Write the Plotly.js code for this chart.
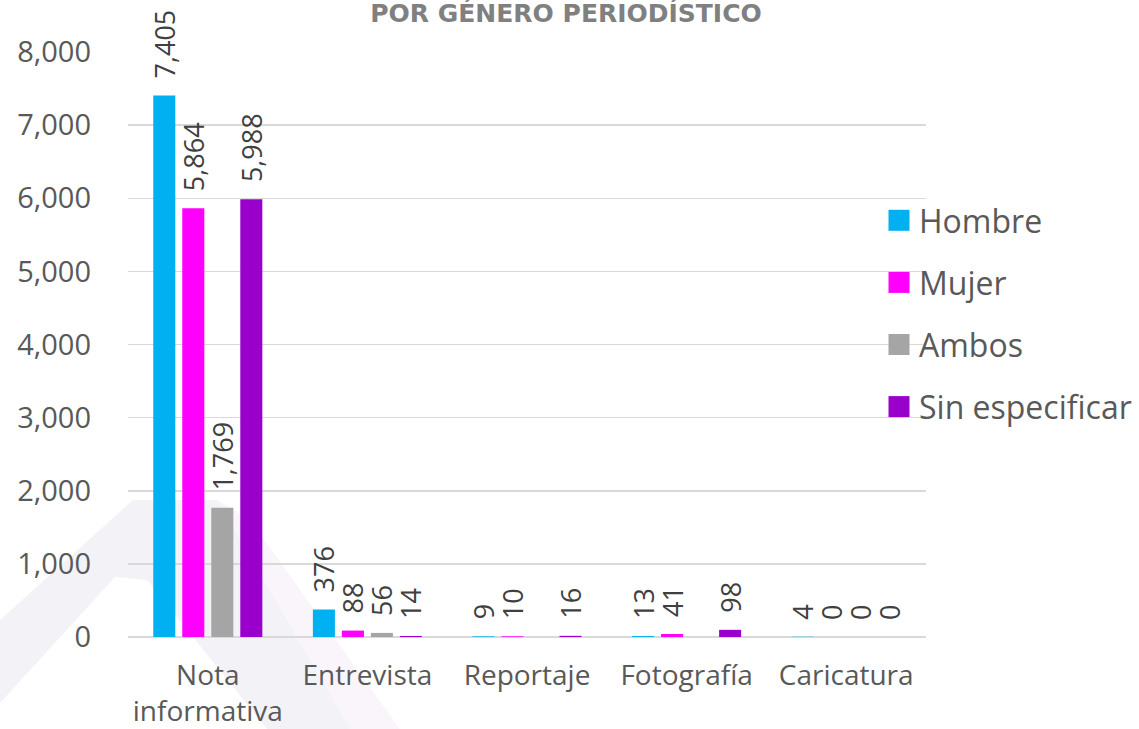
<!DOCTYPE html>
<html>
<head>
<meta charset="utf-8">
<script src="https://cdn.plot.ly/plotly-3.0.1.min.js"></script>
<style>
  html, body { margin: 0; padding: 0; background: #fff; }
  #chart { width: 1139px; height: 729px; }
</style>
</head>
<body>
<div id="chart"></div>
<script>
// categories and values per series
const categories = ['Nota<br>informativa', 'Entrevista', 'Reportaje', 'Fotografía', 'Caricatura'];
const hombre = [7405, 376, 9, 13, 4];
const mujer = [5864, 88, 10, 41, 0];
const ambos = [1769, 56, null, null, 0];
const sinEspecificar = [5988, 14, 16, 98, 0];

const seriesNames = ['Hombre', 'Mujer', 'Ambos', 'Sin especificar'];
const seriesColors = ['#00B0F0', '#FF00FF', '#A5A5A5', '#9900CC'];
const seriesValues = [hombre, mujer, ambos, sinEspecificar];

const FONT = '"Open Sans", "Noto Sans", sans-serif';
const W = 1139, H = 729;

// pixel -> paper helpers, used for the placement of layout pieces
const PL = 128, PR = 926, PT = 52, PB = 637;
function px(x) { return (x - PL) / (PR - PL); }
function py(y) { return (PB - y) / (PB - PT); }
function poly(points) {
  return 'M' + points.map(([x, y]) => px(x) + ',' + py(y)).join(' L') + ' Z';
}

const traces = seriesNames.map((name, i) => ({
  type: 'bar',
  name: name,
  x: categories,
  y: seriesValues[i],
  legendgroup: name,
  marker: { color: seriesColors[i], line: { width: 0 } },
  texttemplate: '\u00A0\u00A0%{y:,}',
  textposition: 'outside',
  textangle: -90,
  constraintext: 'none',
  cliponaxis: false,
  textfont: { family: FONT, size: 27, color: '#404040' },
  hoverinfo: 'x+y+name'
}));

const layout = {
  width: W,
  height: H,
  margin: { l: PL, r: W - PR, t: PT, b: H - PB, autoexpand: false },
  paper_bgcolor: '#ffffff',
  plot_bgcolor: 'rgba(0,0,0,0)',
  font: { family: FONT, color: '#595959' },
  title: {
    text: 'POR GÉNERO PERIODÍSTICO',
    xref: 'paper', x: px(566), xanchor: 'center',
    yref: 'paper', y: 1, yanchor: 'bottom',
    pad: { b: 30 },
    font: { family: '"DejaVu Sans", sans-serif', stretch: 'condensed',
            size: 25, color: '#808080', weight: 'bold' }
  },
  barmode: 'group',
  bargap: 0.273,
  bargroupgap: 0.24,
  xaxis: {
    type: 'category',
    showgrid: false,
    showline: false,
    zeroline: false,
    ticks: '',
    ticklabelstandoff: 19,
    tickfont: { family: FONT, size: 28, color: '#595959' }
  },
  yaxis: {
    range: [0, 8000],
    dtick: 1000,
    tickformat: ',',
    showgrid: true,
    gridcolor: '#D9D9D9',
    gridwidth: 1.5,
    zeroline: true,
    zerolinecolor: '#D9D9D9',
    zerolinewidth: 1.5,
    ticks: '',
    ticklabelstandoff: 36,
    tickfont: { family: FONT, size: 29, color: '#595959' }
  },
  legend: {
    xref: 'container', x: 879 / W, xanchor: 'left',
    yref: 'container', y: 1 - 193 / H, yanchor: 'top',
    bgcolor: 'rgba(0,0,0,0)',
    tracegroupgap: 17.5,
    itemwidth: 30,
    font: { family: FONT, size: 32, color: '#595959' }
  },
  shapes: [
    // faint watermark behind the plot (bottom left)
    {
      type: 'path', xref: 'paper', yref: 'paper', layer: 'below',
      path: poly([[0, 620], [133, 500], [217, 500], [350, 729], [267, 729], [147, 580], [115, 577], [0, 703]]),
      fillcolor: 'rgba(200,195,215,0.22)', line: { width: 0 }
    },
    {
      type: 'path', xref: 'paper', yref: 'paper', layer: 'below',
      path: poly([[217, 500], [250, 520], [400, 729], [350, 729]]),
      fillcolor: 'rgba(230,210,235,0.22)', line: { width: 0 }
    }
  ]
};

Plotly.newPlot('chart', traces, layout, { displayModeBar: false, staticPlot: true }).then(gd => {
  // enlarge the legend squares to match the reference
  gd.querySelectorAll('.legendpoints path').forEach(p => {
    const t = p.getAttribute('transform') || '';
    p.setAttribute('transform', t + ' scale(1.75)');
  });
});
</script>
</body>
</html>
